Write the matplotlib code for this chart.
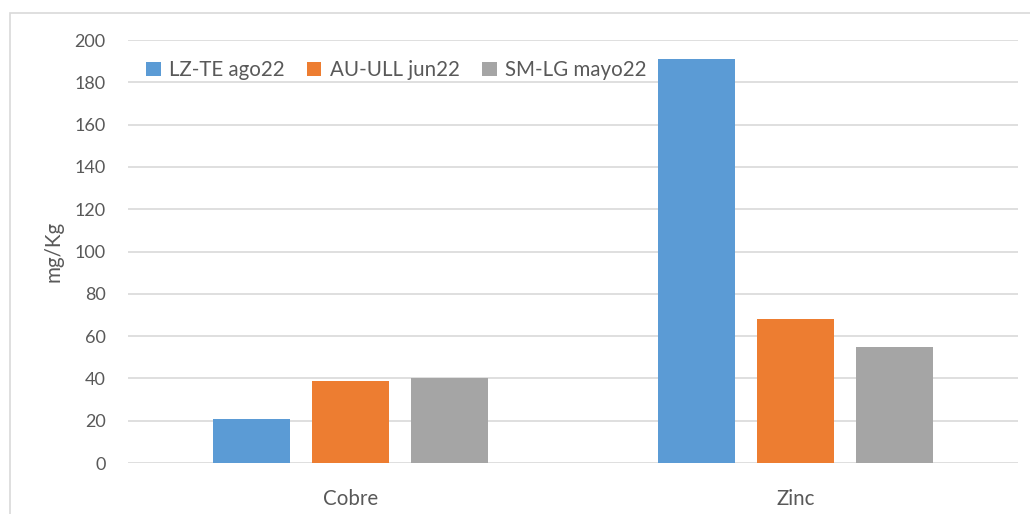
import matplotlib
matplotlib.use("Agg")
import matplotlib.pyplot as plt
import numpy as np
from matplotlib.patches import Rectangle

categories = ["Cobre", "Zinc"]
series_names = ["LZ-TE ago22", "AU-ULL jun22", "SM-LG mayo22"]
lzte = [21, 191]
auull = [39, 68]
smlg = [40, 55]
yticks = [0, 20, 40, 60, 80, 100, 120, 140, 160, 180, 200]

colors = ["#5B9BD5", "#ED7D31", "#A5A5A5"]
text_color = "#595959"
plt.rcParams['font.family'] = ['Lato', 'DejaVu Sans']

W, H = 1030, 514
fig = plt.figure(figsize=(W / 100, H / 100), dpi=100)
ax = fig.add_axes([128 / W, 1 - 463 / H, (1018 - 128) / W, (463 - 40) / H])

x = np.arange(len(categories))
step = 0.2225
bw = 0.175
for i, (vals, name) in enumerate(zip([lzte, auull, smlg], series_names)):
    ax.bar(x + (i - 1) * step, vals, width=bw, color=colors[i], label=name, zorder=3)

ax.set_xlim(-0.5, 1.5)
ax.set_ylim(0, 200)
ax.set_yticks(yticks)
ax.set_xticks(x)
ax.set_xticklabels(categories, fontsize=14.8)
ax.yaxis.grid(True, color="#D9D9D9", linewidth=1.2, zorder=0)
for s in ax.spines.values():
    s.set_visible(False)
ax.tick_params(axis="both", length=0, colors=text_color)
ax.tick_params(axis="y", pad=16, labelsize=13)
ax.tick_params(axis="x", pad=19)
ax.set_ylabel("mg/Kg", color=text_color, fontsize=14.8, labelpad=8)

leg = ax.legend(loc="upper left", bbox_to_anchor=(138 / W, 1 - 52 / H), bbox_transform=fig.transFigure,
                ncol=3, frameon=False, fontsize=14.8, handlelength=0.7, handleheight=0.7,
                handletextpad=0.4, columnspacing=1.1, borderaxespad=0)
for t in leg.get_texts():
    t.set_color(text_color)

fig.patches.append(Rectangle((10 / W, -0.1), 1.1, 1 - 13 / H + 0.1, transform=fig.transFigure,
                             fill=False, edgecolor="#D9D9D9", linewidth=1.2))
fig.savefig("out.png", dpi=100)
